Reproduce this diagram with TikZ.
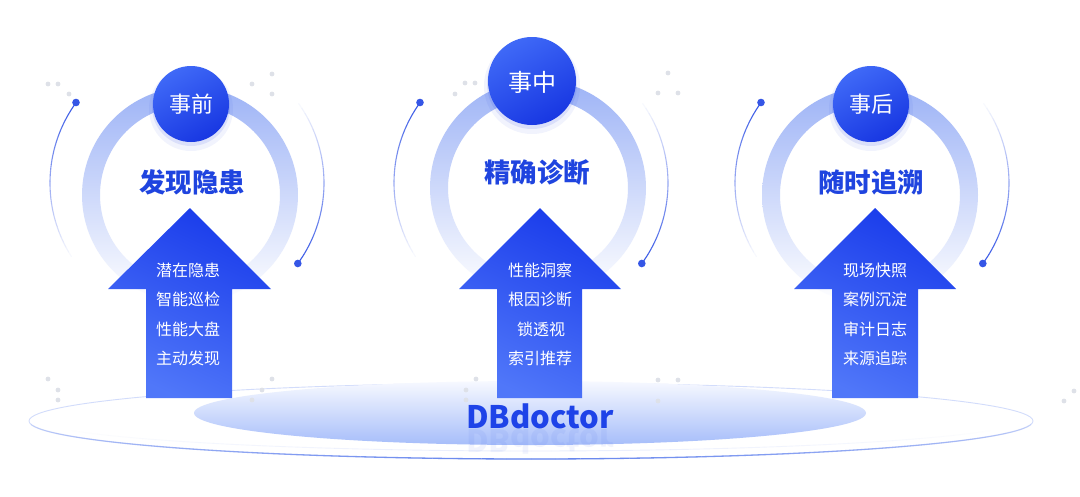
\documentclass[tikz,border=0pt]{standalone}
\usepackage{fontspec}
\newfontfamily\cjk{Noto Sans CJK SC}
\usetikzlibrary{calc}
\definecolor{ringtop}{HTML}{9DB3F6}
\definecolor{ringmid}{HTML}{CBD7FB}
\definecolor{badgeA}{HTML}{3F69F7}
\definecolor{badgeB}{HTML}{1837E2}
\definecolor{arrowA}{HTML}{1A3CEB}
\definecolor{arrowB}{HTML}{5077F9}
\definecolor{titleblue}{HTML}{1F44DF}
\definecolor{arcblue}{HTML}{3556E6}
\definecolor{dotgrey}{HTML}{DEE1E8}
\definecolor{platA}{HTML}{F7F9FF}
\definecolor{platB}{HTML}{A6BDFA}
\definecolor{rimlight}{HTML}{D2DCFB}
\definecolor{rimdark}{HTML}{6585EE}
\definecolor{dbblue}{HTML}{1E43E8}
% #1 cx  #2 cy  #3 rx  #4 ry  #5 a0  #6 a1  #7 op0  #8 op1  #9 style
\newcommand{\myfadearc}[9]{%
  \foreach \k in {0,...,29}{%
    \pgfmathsetmacro{\arcA}{#5+(#6-#5)*\k/30}%
    \pgfmathsetmacro{\arcB}{#5+(#6-#5)*(\k+1)/30}%
    \pgfmathsetmacro{\arcO}{#7+(#8-#7)*\k/29}%
    \draw[#9, draw opacity=\arcO] plot[domain=\arcA:\arcB, samples=4, smooth] ({#1+#3*cos(\x)},{#2+#4*sin(\x)});
  }}
\begin{document}
\begin{tikzpicture}[x=1pt,y=-1pt,
  arcline/.style={draw=arcblue, line width=1.1pt},
  rimline/.style={draw=rimdark, line width=1.3pt},
  rimthin/.style={draw=rimlight, line width=0.9pt},
  arcdot/.style={fill=arcblue},
  greydot/.style={fill=dotgrey},
  ringshade/.style={even odd rule, top color=ringtop, middle color=ringmid, bottom color=white},
  badgeshade/.style={top color=badgeA, bottom color=badgeB, shading angle=30},
  arrowshade/.style={top color=arrowA, bottom color=arrowB, shading angle=-25},
  badgetxt/.style={text=white, inner sep=0pt},
  titletxt/.style={text=titleblue, inner sep=0pt, font=\cjk\bfseries\fontsize{26.5}{31}\selectfont},
  listtxt/.style={text=white, inner sep=0pt, font=\cjk\fontsize{16}{19}\selectfont}]
\useasboundingbox (0,0) rectangle (1080,496);
\fill[white] (0,0) rectangle (1080,496);

% ---------- platform ----------
\draw[rimthin] (531,421) ellipse [x radius=502, y radius=38];
\myfadearc{531}{421}{502}{38}{90}{5}{1}{0.15}{rimline}
\myfadearc{531}{421}{502}{38}{90}{175}{1}{0.15}{rimline}
\myfadearc{531}{418}{497}{33}{90}{20}{0.5}{0}{rimthin}
\myfadearc{531}{418}{497}{33}{90}{160}{0.5}{0}{rimthin}
\shade[top color=platA, bottom color=platB] (530,413) ellipse [x radius=336, y radius=32];

% ---------- decorative grey dots ----------
\foreach \p in {(48,84),(58,84),(69,94),(252,84),(272,74),(272,94),
                (465,83),(475,83),(455,94),(668,73),(658,93),(678,93),
                (48,379),(58,390),(58,400),(272,379),(262,390),(252,400),
                (476,379),(466,390),(466,400),(658,380),(678,380),(658,401),
                (861,380),(871,391),(1074,391),(1064,401)}
  \fill[greydot] \p circle (2.4);

% ---------- outer thin arcs ----------
\myfadearc{187}{183}{137}{137}{216}{145}{1}{0}{arcline}
\myfadearc{187}{183}{137}{137}{36}{-38}{1}{0}{arcline}
\myfadearc{531}{183}{137}{137}{216}{145}{1}{0}{arcline}
\myfadearc{531}{183}{137}{137}{36}{-38}{1}{0}{arcline}
\myfadearc{872}{183}{137}{137}{216}{145}{1}{0}{arcline}
\myfadearc{872}{183}{137}{137}{36}{-38}{1}{0}{arcline}
\fill[arcdot] (76,102.5) circle (3.8);
\fill[arcdot] (297.8,263.5) circle (3.8);
\fill[arcdot] (420,102.5) circle (3.8);
\fill[arcdot] (641.8,263.5) circle (3.8);
\fill[arcdot] (761,102.5) circle (3.8);
\fill[arcdot] (982.8,263.5) circle (3.8);

% ---------- rings ----------
\shade[ringshade] (190,195) circle (108) (190,195) circle (90);
\shade[ringshade] (538,188) circle (108) (538,188) circle (90);
\shade[ringshade] (870,195) circle (108) (870,195) circle (90);

% ---------- badges ----------
\fill[badgeB, opacity=0.06] (191,109) circle (42);
\fill[badgeB, opacity=0.10] (191,107) circle (39);
\shade[badgeshade] (191,104) circle (38);
\fill[badgeB, opacity=0.06] (532,86) circle (48);
\fill[badgeB, opacity=0.10] (532,84) circle (45);
\shade[badgeshade] (532,81) circle (44);
\fill[badgeB, opacity=0.06] (871,109) circle (42);
\fill[badgeB, opacity=0.10] (871,107) circle (39);
\shade[badgeshade] (871,104) circle (38);
\node[badgetxt, font=\cjk\fontsize{22}{26}\selectfont] (b1) at (191,104) {事前};
\node[badgetxt, font=\cjk\fontsize{24}{28}\selectfont] (b2) at (532,82) {事中};
\node[badgetxt, font=\cjk\fontsize{22}{26}\selectfont] (b3) at (871,104) {事后};

% ---------- titles ----------
\node[titletxt] (t1) at (192,182) {发现隐患};
\node[titletxt] (t2) at (537,172) {精确诊断};
\node[titletxt] (t3) at (871,182) {随时追溯};

% ---------- arrows ----------
\shade[arrowshade] (190,208) -- (271,289) -- (232,289) -- (232,398) -- (146,398) -- (146,289) -- (108,289) -- cycle;
\shade[arrowshade] (540,208) -- (621,289) -- (582,289) -- (582,398) -- (497,398) -- (497,289) -- (459,289) -- cycle;
\shade[arrowshade] (875,208) -- (956,289) -- (918,289) -- (918,398) -- (832,398) -- (832,289) -- (794,289) -- cycle;

\node[listtxt] (l11) at (188,270) {潜在隐患};
\node[listtxt] (l12) at (188,299.5) {智能巡检};
\node[listtxt] (l13) at (188,329) {性能大盘};
\node[listtxt] (l14) at (188,358.5) {主动发现};
\node[listtxt] (l21) at (540,270) {性能洞察};
\node[listtxt] (l22) at (540,299.5) {根因诊断};
\node[listtxt] (l23) at (541,329) {锁透视};
\node[listtxt] (l24) at (540,358.5) {索引推荐};
\node[listtxt] (l31) at (875,270) {现场快照};
\node[listtxt] (l32) at (875,299.5) {案例沉淀};
\node[listtxt] (l33) at (875,329) {审计日志};
\node[listtxt] (l34) at (875,358.5) {来源追踪};

% ---------- DBdoctor ----------
\node[inner sep=0pt, anchor=base, text=dbblue, font=\cjk\bfseries\fontsize{31}{36}\selectfont] (db) at (540,428) {DBdoctor};
\node[inner sep=0pt, anchor=base, text=dbblue, text opacity=0.06, font=\cjk\bfseries\fontsize{31}{36}\selectfont] (dbr) at (540,429) {\scalebox{1}[-1]{DBdoctor}};
\end{tikzpicture}
\end{document}
